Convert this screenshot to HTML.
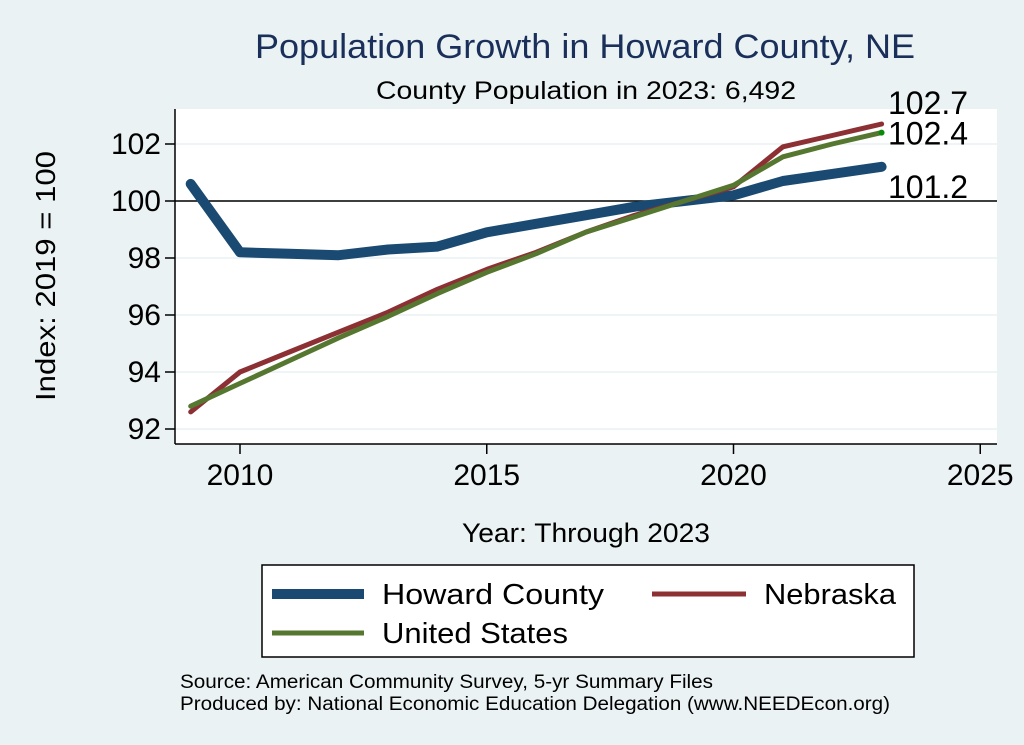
<!DOCTYPE html>
<html><head><meta charset="utf-8"><style>
body{margin:0;background:#eaf2f3;}
svg{display:block;font-family:"Liberation Sans",Arial,sans-serif;}
</style></head><body>
<svg width="1024" height="745" viewBox="0 0 1024 745">
<rect x="0" y="0" width="1024" height="745" fill="#eaf2f3"/>
<text x="585" y="58" font-size="34" fill="#1a2f5a" text-anchor="middle" textLength="660" lengthAdjust="spacingAndGlyphs">Population Growth in Howard County, NE</text>
<text x="586" y="99" font-size="25" fill="#000" text-anchor="middle" textLength="420" lengthAdjust="spacingAndGlyphs">County Population in 2023: 6,492</text>
<rect x="175" y="109" width="822" height="335" fill="#fff"/>
<g id="axes"></g>
<g id="series"></g>
<text transform="translate(55,276) rotate(-90)" font-size="28" text-anchor="middle" textLength="250" lengthAdjust="spacingAndGlyphs">Index: 2019 = 100</text>
<text x="586" y="542" font-size="27" text-anchor="middle" textLength="248" lengthAdjust="spacingAndGlyphs">Year: Through 2023</text>
<g>
<rect x="262" y="565" width="652" height="92" fill="#fff" stroke="#000" stroke-width="1.5"/>
<line x1="272" y1="594" x2="364" y2="594" stroke="#1a4a72" stroke-width="10"/>
<text x="382" y="604" font-size="29" textLength="222" lengthAdjust="spacingAndGlyphs">Howard  County</text>
<line x1="652" y1="594" x2="746" y2="594" stroke="#8c3034" stroke-width="5"/>
<text x="764" y="604" font-size="29" textLength="132" lengthAdjust="spacingAndGlyphs">Nebraska</text>
<line x1="272" y1="633" x2="364" y2="633" stroke="#56772f" stroke-width="5"/>
<text x="382" y="643" font-size="29" textLength="186" lengthAdjust="spacingAndGlyphs">United States</text>
</g>
<text x="180" y="688" font-size="19" textLength="533" lengthAdjust="spacingAndGlyphs">Source: American Community Survey, 5-yr Summary Files</text>
<text x="180" y="710" font-size="19" textLength="710" lengthAdjust="spacingAndGlyphs">Produced by: National Economic Education Delegation (www.NEEDEcon.org)</text>
</svg>
<script>
const years=[2009,2010,2011,2012,2013,2014,2015,2016,2017,2018,2019,2020,2021,2022,2023];
const howard=[100.6,98.2,98.15,98.1,98.3,98.4,98.9,99.2,99.5,99.8,100.0,100.2,100.7,100.95,101.2];
const nebraska=[92.6,94.0,94.7,95.4,96.1,96.9,97.6,98.2,98.9,99.5,100.0,100.5,101.9,102.3,102.7];
const us=[92.8,93.6,94.4,95.2,95.95,96.75,97.5,98.15,98.9,99.45,100.0,100.55,101.55,102.0,102.4];
const xTicks=[2010,2015,2020,2025];
const yTicks=[92,94,96,98,100,102];
const NS='http://www.w3.org/2000/svg';
const xs=v=>240+(v-2010)*49.35;
const ys=v=>201-(v-100)*28.5;
function mk(t,a,p){const e=document.createElementNS(NS,t);for(const k in a)e.setAttribute(k,a[k]);p.appendChild(e);return e;}
const ax=document.getElementById('axes');
yTicks.forEach(v=>{
 const g=mk('line',{x1:175,y1:ys(v),x2:997,y2:ys(v),stroke:'#eaf2f3','stroke-width':1.5},ax);
 
 
});
let l=mk('line',{x1:175,y1:109,x2:175,y2:444,stroke:'#000','stroke-width':1.5},ax);


l=mk('line',{x1:175,y1:444,x2:997,y2:444,stroke:'#000','stroke-width':1.5},ax);


l=mk('line',{x1:175,y1:ys(100),x2:997,y2:ys(100),stroke:'#000','stroke-width':1.5},ax);


yTicks.forEach(v=>{
 const t=mk('line',{x1:165,y1:ys(v),x2:175,y2:ys(v),stroke:'#000','stroke-width':1.5},ax);
 
 
 const tx=mk('text',{x:161,y:ys(v)+10,'font-size':30,'text-anchor':'end'},ax);tx.textContent=v;
 
 
});
xTicks.forEach(v=>{
 const t=mk('line',{x1:xs(v),y1:444,x2:xs(v),y2:454,stroke:'#000','stroke-width':1.5},ax);
 
 
 const tx=mk('text',{x:xs(v),y:485,'font-size':30,'text-anchor':'middle'},ax);tx.textContent=v;
 
 
});
const sg=document.getElementById('series');
function line(data,color,w,name){
 const d=data.map((v,i)=>(i?'L':'M')+xs(years[i]).toFixed(1)+','+ys(v).toFixed(1)).join(' ');
 const p=mk('path',{d:d,fill:'none',stroke:color,'stroke-width':w,'stroke-linejoin':'round','stroke-linecap':'round'},sg);
 
 
}
line(howard,'#1a4a72',10,'line-howard-county');
line(nebraska,'#8c3034',5,'line-nebraska');
line(us,'#56772f',5,'line-united-states');
const dot=mk('circle',{cx:xs(2023),cy:ys(us[us.length-1]),r:3,fill:'#0a8a0a'},sg);


const labs=[[nebraska,'end-label-nebraska',-10],[us,'end-label-us',12],[howard,'end-label-howard',31]];
labs.forEach(([d,n,off])=>{
 const v=d[d.length-1];
 const t=mk('text',{x:888,y:ys(v)+off,'font-size':32},sg);
 t.textContent=v.toFixed(1);
 
 
});
</script>
</body></html>
